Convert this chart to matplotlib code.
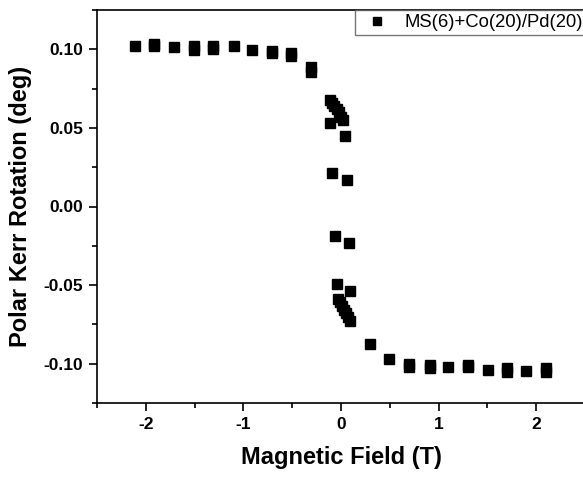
import matplotlib
matplotlib.use('Agg')
import matplotlib.pyplot as plt
from matplotlib.ticker import MultipleLocator

# Kerr loop, field in T, rotation in deg
field = [-2.11, -1.92, -1.92, -1.71, -1.51, -1.51, -1.31, -1.31, -1.10,
         -0.91, -0.71, -0.71, -0.51, -0.51, -0.31, -0.31,
         -0.113, -0.09, -0.068, -0.046, -0.024, -0.002, 0.02,
         -0.113, 0.041, -0.092, 0.062, -0.062, 0.082, -0.041, 0.092,
         -0.031, -0.01, 0.01, 0.031, 0.051, 0.072, 0.092,
         0.30, 0.49, 0.70, 0.70, 0.91, 0.91, 1.10, 1.30, 1.30,
         1.51, 1.70, 1.70, 1.90, 2.10, 2.10]
kerr = [0.1024, 0.1035, 0.1018, 0.1017, 0.1024, 0.0997, 0.1020, 0.1000, 0.1020,
        0.0995, 0.0992, 0.0978, 0.0976, 0.0956, 0.0890, 0.0854,
        0.068, 0.066, 0.064, 0.062, 0.060, 0.057, 0.055,
        0.053, 0.045, 0.021, 0.017, -0.019, -0.023, -0.049, -0.054,
        -0.059, -0.061, -0.063, -0.066, -0.068, -0.070, -0.073,
        -0.0875, -0.0973, -0.0999, -0.1018, -0.1010, -0.1030, -0.1020, -0.1010, -0.1018,
        -0.1040, -0.1027, -0.1054, -0.1049, -0.1027, -0.1050]
series_label = 'MS(6)+Co(20)/Pd(20)'

plt.rcParams['font.family'] = ['Liberation Sans', 'DejaVu Sans']
plt.rcParams['axes.unicode_minus'] = False

fig = plt.figure(figsize=(5.83, 4.8), dpi=100)
ax = fig.add_axes([97 / 583, 77 / 480, 488 / 583, 393 / 480])

ax.plot(field, kerr, 's', color='black', markersize=6.5, linestyle='none',
        label=series_label)

ax.set_xlim(-2.5, 2.5)
ax.set_ylim(-0.125, 0.125)
ax.xaxis.set_major_locator(MultipleLocator(1))
ax.xaxis.set_minor_locator(MultipleLocator(0.5))
ax.yaxis.set_major_locator(MultipleLocator(0.05))
ax.yaxis.set_minor_locator(MultipleLocator(0.025))
ax.yaxis.set_major_formatter(plt.FormatStrFormatter('%.2f'))
ax.tick_params(which='major', direction='out', length=6, width=1.2,
               labelsize=12.5, pad=4)
ax.tick_params(which='minor', direction='out', length=3.5, width=1.2)
ax.tick_params(top=False, right=False)
for lbl in ax.get_xticklabels() + ax.get_yticklabels():
    lbl.set_fontweight('bold')
for sp in ax.spines.values():
    sp.set_linewidth(1.2)

ax.set_xlabel('Magnetic Field (T)', fontsize=17, fontweight='bold', labelpad=10)
ax.set_ylabel('Polar Kerr Rotation (deg)', fontsize=17, fontweight='bold', labelpad=8)

leg = ax.legend(loc='upper left', bbox_to_anchor=(258 / 488, 1.0), fontsize=13.3,
                frameon=True, fancybox=False, edgecolor='#555555',
                borderpad=0.22, handletextpad=0.55, borderaxespad=0,
                markerscale=0.9, handlelength=1.9)
leg.get_frame().set_linewidth(1.0)

fig.savefig('out.png', dpi=100)
